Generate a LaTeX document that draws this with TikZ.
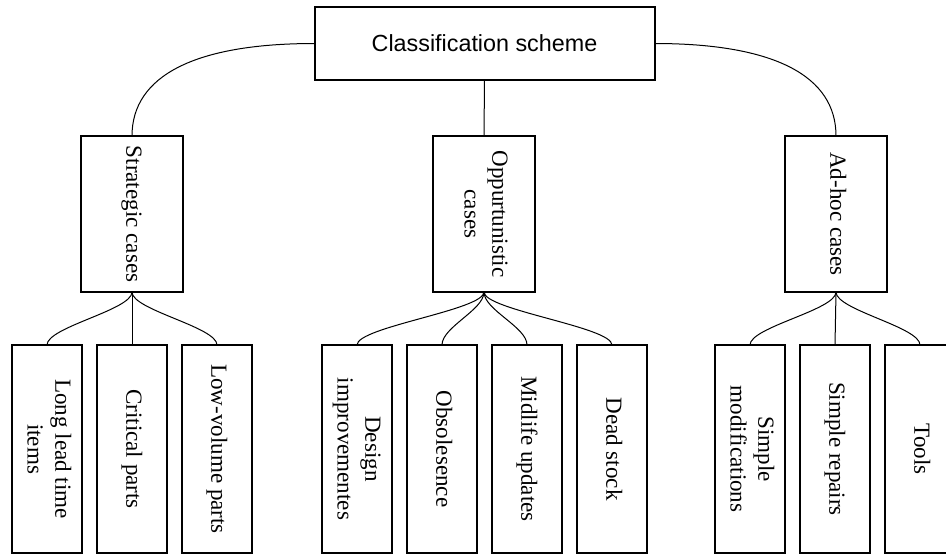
\documentclass[tikz,border=0pt]{standalone}
\usepackage{fontspec}
\setmainfont{Liberation Serif}
\setsansfont{Liberation Sans}
\usepackage{graphicx}
\usetikzlibrary{positioning}

% vertical (clockwise) label, lines centred
\newcommand{\vlabel}[1]{\rotatebox{-90}{\begin{tabular}{@{}c@{}}#1\end{tabular}}}

\begin{document}
\begin{tikzpicture}[
    % Global styles
    x=0.75pt, y=-0.75pt,
    node distance=11.25pt,
    % Box styles
    topbox/.style={
      rectangle, draw, line width=1.5pt,
      minimum width=255pt, minimum height=54.75pt,
      inner sep=0pt, outer sep=0pt,
      font=\sffamily\fontsize{17.5}{21}\selectfont
    },
    groupbox/.style={
      rectangle, draw, line width=1.5pt,
      minimum width=76.5pt, minimum height=117pt,
      inner sep=0pt, outer sep=0pt,
      font=\fontsize{17.3}{20.7}\selectfont
    },
    leafbox/.style={groupbox, minimum width=52.5pt, minimum height=156pt},
    link/.style={line width=0.75pt},
  ]

  \useasboundingbox (0,0) rectangle (946,554);
  \clip (0,0) rectangle (946,554);

  % ====================================================================
  % ROOT
  % ====================================================================
  \node[topbox] (root) at (484.5, 43.5) {Classification scheme};

  % ====================================================================
  % GROUPS
  % ====================================================================
  \node[groupbox] (strat) at (132, 214) {\vlabel{Strategic cases}};
  \node[groupbox] (oppo)  at (484, 214) {\vlabel{Oppurtunistic\\cases}};
  \node[groupbox] (adhoc) at (836, 214) {\vlabel{Ad-hoc cases}};

  % ====================================================================
  % LEAVES
  % ====================================================================
  % Strategic
  \node[leafbox] (lead) at (47, 449) {\vlabel{Long lead time\\items}};
  \node[leafbox, right=of lead] (crit) {\vlabel{Critical parts}};
  \node[leafbox, right=of crit] (lowvol) {\vlabel{Low-volume parts}};

  % Oppurtunistic
  \node[leafbox] (design) at (357, 449) {\vlabel{Design\\improvementes}};
  \node[leafbox, right=of design] (obso) {\vlabel{Obsolesence}};
  \node[leafbox, right=of obso] (midlife) {\vlabel{Midlife updates}};
  \node[leafbox, right=of midlife] (dead) {\vlabel{Dead stock}};

  % Ad-hoc
  \node[leafbox] (simpmod) at (750, 449) {\vlabel{Simple\\modifications}};
  \node[leafbox, right=of simpmod] (simprep) {\vlabel{Simple repairs}};
  \node[leafbox, right=of simprep] (tools) {\vlabel{Tools}};

  % ------- Connectors -------
  \draw[link] (root.west) .. controls +(-120,0) and +(0,-60) .. (strat.north);
  \draw[link] (root.east) .. controls +(120,0) and +(0,-60) .. (adhoc.north);
  \draw[link] (root.south) -- (oppo.north);

  \draw[link] (strat.south) .. controls +(0,18) and +(0,-18) .. (lead.north);
  \draw[link] (strat.south) -- (crit.north);
  \draw[link] (strat.south) .. controls +(0,18) and +(0,-18) .. (lowvol.north);

  \draw[link] (oppo.south) .. controls +(0,18) and +(0,-18) .. (design.north);
  \draw[link] (oppo.south) .. controls +(0,18) and +(0,-18) .. (obso.north);
  \draw[link] (oppo.south) .. controls +(0,18) and +(0,-18) .. (midlife.north);
  \draw[link] (oppo.south) .. controls +(0,18) and +(0,-18) .. (dead.north);

  \draw[link] (adhoc.south) .. controls +(0,18) and +(0,-18) .. (simpmod.north);
  \draw[link] (adhoc.south) -- (simprep.north);
  \draw[link] (adhoc.south) .. controls +(0,18) and +(0,-18) .. (tools.north);

\end{tikzpicture}
\end{document}
